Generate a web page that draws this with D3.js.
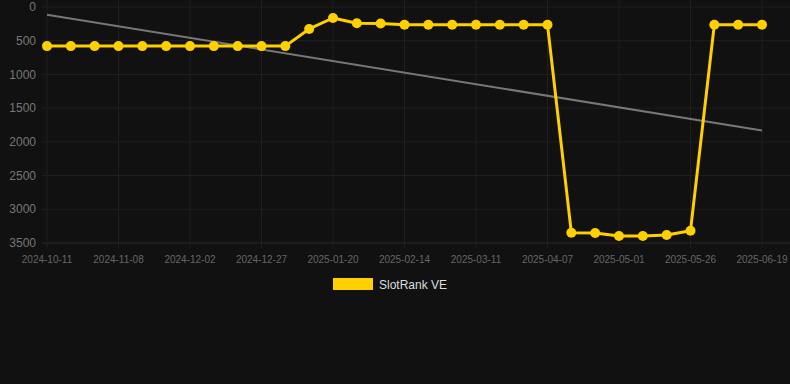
<!DOCTYPE html>
<html><head><meta charset="utf-8">
<script src="https://cdn.jsdelivr.net/npm/d3@7"></script>
<style>html,body{margin:0;padding:0;background:#111111;}svg{display:block;}</style>
</head><body>
<svg id="c" width="790" height="384"></svg>
<script>
const dates = ["2024-10-11","2024-10-20","2024-10-30","2024-11-08","2024-11-16","2024-11-24","2024-12-02","2024-12-10","2024-12-19","2024-12-27",
"2025-01-04","2025-01-12","2025-01-20","2025-01-28","2025-02-06","2025-02-14","2025-02-22","2025-03-03","2025-03-11","2025-03-20",
"2025-03-29","2025-04-07","2025-04-15","2025-04-23","2025-05-01","2025-05-09","2025-05-17","2025-05-26","2025-06-03","2025-06-11","2025-06-19"];
const ranks = [580,580,580,580,580,580,580,580,580,580,580,326,163,242,245,262,262,262,262,262,262,262,3347,3352,3396,3396,3381,3317,262,262,262];
const yTicks = [0,500,1000,1500,2000,2500,3000,3500];
const seriesName = "SlotRank VE";

(function(){
const svg = d3.select("#c");
const pL = 47, pR = 762, pT = 7, pB = 243;
const x = d3.scalePoint().domain(d3.range(dates.length)).range([pL, pR]);
const y = d3.scaleLinear().domain([0, 3500]).range([pT, pB]);

const grid = svg.append("g");
yTicks.forEach(t => {
  grid.append("line").attr("x1", 42).attr("x2", 790).attr("y1", y(t)).attr("y2", y(t))
    .attr("stroke", t === 3500 ? "#2a2a2a" : "#1f1f1f").attr("stroke-width", 1);
});
dates.forEach((d, i) => {
  if (i % 3 === 0) {
    grid.append("line").attr("x1", x(i)).attr("x2", x(i)).attr("y1", 0).attr("y2", pB + 5)
      .attr("stroke", "#1f1f1f").attr("stroke-width", 1);
  }
});

svg.append("g").selectAll("text").data(yTicks).join("text")
  .attr("x", 36).attr("y", d => y(d)).attr("dy", "0.35em").attr("text-anchor", "end")
  .attr("font-family", "Liberation Sans, Arial, sans-serif").attr("font-size", 12).attr("fill", "#777")
  .text(d => d);

svg.append("g").selectAll("text").data(dates.map((d,i)=>({d,i})).filter(o => o.i % 3 === 0)).join("text")
  .attr("x", o => x(o.i)).attr("y", 263).attr("text-anchor", "middle")
  .attr("font-family", "Liberation Sans, Arial, sans-serif").attr("font-size", 10).attr("fill", "#666")
  .text(o => o.d);

const n = ranks.length;
const mx = d3.mean(d3.range(n)), my = d3.mean(ranks);
let sxy = 0, sxx = 0;
ranks.forEach((v, i) => { sxy += (i - mx) * (v - my); sxx += (i - mx) * (i - mx); });
const slope = sxy / sxx, icpt = my - slope * mx;
svg.append("line").attr("x1", x(0)).attr("y1", y(icpt)).attr("x2", x(n - 1)).attr("y2", y(icpt + slope * (n - 1)))
  .attr("stroke", "#777").attr("stroke-width", 2);

const color = "#ffd000";
svg.append("path").datum(ranks)
  .attr("d", d3.line().x((d, i) => x(i)).y(d => y(d)))
  .attr("fill", "none").attr("stroke", color).attr("stroke-width", 3).attr("stroke-linejoin", "round");
svg.append("g").selectAll("circle").data(ranks).join("circle")
  .attr("cx", (d, i) => x(i)).attr("cy", d => y(d)).attr("r", 5).attr("fill", color);

svg.append("rect").attr("x", 333).attr("y", 278).attr("width", 40).attr("height", 12).attr("fill", color);
svg.append("text").attr("x", 379).attr("y", 288.5)
  .attr("font-family", "Liberation Sans, Arial, sans-serif").attr("font-size", 12).attr("fill", "#ddd")
  .text(seriesName);
})();
</script>
</body></html>
